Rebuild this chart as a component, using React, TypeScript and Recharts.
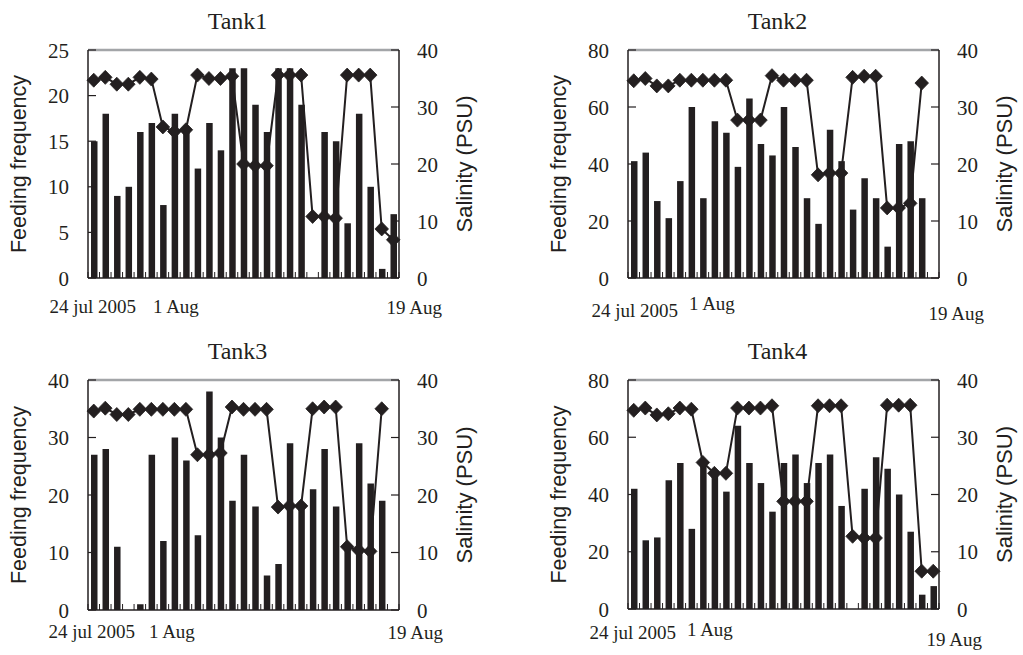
import React from "react";
import { ComposedChart, Bar, Line, XAxis, YAxis, ReferenceLine } from "recharts";

// ---------- data ----------
const days = [
  "24 Jul", "25 Jul", "26 Jul", "27 Jul", "28 Jul", "29 Jul", "30 Jul", "31 Jul",
  "1 Aug", "2 Aug", "3 Aug", "4 Aug", "5 Aug", "6 Aug", "7 Aug", "8 Aug", "9 Aug",
  "10 Aug", "11 Aug", "12 Aug", "13 Aug", "14 Aug", "15 Aug", "16 Aug", "17 Aug",
  "18 Aug", "19 Aug",
];
const xTickLabels = ["24 jul 2005", "1 Aug", "19 Aug"];
const xTickIndex = [0, 8, 26];

const titles = ["Tank1", "Tank2", "Tank3", "Tank4"];
const leftMax = [25, 80, 40, 80];
const leftTicks1 = [0, 5, 10, 15, 20, 25];
const leftTicks2 = [0, 20, 40, 60, 80];
const leftTicks3 = [0, 10, 20, 30, 40];
const leftTicks4 = [0, 20, 40, 60, 80];
const rightTicks = [0, 10, 20, 30, 40];

const tank1Feeding = [15, 18, 9, 10, 16, 17, 8, 18, 16, 12, 17, 14, 23, 23, 19, 16, 23, 23, 19, 0, 16, 15, 6, 18, 10, 1, 7];
const tank1Salinity = [34.7, 35.2, 34, 34, 35.2, 34.9, 26.5, 25.7, 26, 35.6, 35, 35, 35.4, 20, 19.7, 19.7, 35.6, 35.6, 35.6, 10.8, 10.8, 10.5, 35.6, 35.6, 35.6, 8.6, 6.7];

const tank2Feeding = [41, 44, 27, 21, 34, 60, 28, 55, 51, 39, 63, 47, 43, 60, 46, 28, 19, 52, 41, 24, 35, 28, 11, 47, 48, 28, null];
const tank2Salinity = [34.6, 35, 33.7, 33.7, 34.7, 34.7, 34.7, 34.7, 34.7, 27.7, 27.7, 27.7, 35.5, 34.7, 34.7, 34.7, 18.1, 18.4, 18.4, 35.2, 35.4, 35.4, 12.3, 12.3, 13.1, 34.2, null];

const tank3Feeding = [27, 28, 11, 0, 1, 27, 12, 30, 26, 13, 38, 30, 19, 27, 18, 6, 8, 29, 18, 21, 28, 18, 11, 29, 22, 19, null];
const tank3Salinity = [34.6, 35.1, 34, 34, 34.9, 34.9, 34.9, 34.9, 34.9, 27, 27, 27.3, 35.3, 34.9, 34.9, 34.9, 17.9, 18.1, 18.1, 35, 35.3, 35.3, 11, 10.4, 10.2, 35, null];

const tank4Feeding = [42, 24, 25, 45, 51, 28, 51, 48, 41, 64, 51, 44, 34, 51, 54, 44, 51, 54, 36, 0, 42, 53, 49, 40, 27, 5, 8];
const tank4Salinity = [34.7, 35.1, 33.9, 34.1, 35.1, 34.9, 25.6, 23.7, 23.7, 35.1, 35.1, 35.1, 35.5, 18.8, 18.8, 18.8, 35.5, 35.5, 35.5, 12.7, 12.4, 12.4, 35.6, 35.6, 35.6, 6.6, 6.6];

// ---------- style / layout ----------
const INK = "#231f20";
const GREY = "#a3a5a8";
const SERIF = '"Liberation Serif", "Times New Roman", serif';
const SANS = '"Liberation Sans", Arial, sans-serif';
const CHART_W = 511;
const PLOT_L = 88;
const PLOT_R = 399;
const PLOT_W = PLOT_R - PLOT_L;
const PLOT_TOP = 50;
const BAND = PLOT_W / days.length;

type LabelOff = { dx: number; dy: number };

const panels = [
  { left: 0, top: 0, plotH: 228, feeding: tank1Feeding, salinity: tank1Salinity, ticks: leftTicks1,
    offs: [{ dx: -1, dy: 35 }, { dx: -10, dy: 35 }, { dx: 21, dy: 36 }] },
  { left: 540, top: 0, plotH: 228, feeding: tank2Feeding, salinity: tank2Salinity, ticks: leftTicks2,
    offs: [{ dx: 1, dy: 39 }, { dx: -14, dy: 32 }, { dx: 23, dy: 42 }] },
  { left: 0, top: 330, plotH: 230, feeding: tank3Feeding, salinity: tank3Salinity, ticks: leftTicks3,
    offs: [{ dx: -2, dy: 28 }, { dx: -14, dy: 28 }, { dx: 22, dy: 29 }] },
  { left: 540, top: 330, plotH: 229, feeding: tank4Feeding, salinity: tank4Salinity, ticks: leftTicks4,
    offs: [{ dx: -1, dy: 30 }, { dx: -16, dy: 27 }, { dx: 21, dy: 37 }] },
];

const Diamond = (props: any) => {
  const { cx, cy, index } = props;
  if (cx == null || cy == null || props.value == null) return <g key={`d${index}`} />;
  const w = 6.8;
  const h = 7;
  return (
    <polygon
      key={`d${index}`}
      points={`${cx},${cy - h} ${cx + w},${cy} ${cx},${cy + h} ${cx - w},${cy}`}
      fill={INK}
      stroke={INK}
      strokeWidth={0.8}
    />
  );
};

const makeXTick = (offs: LabelOff[]) => (props: any) => {
  const { x, y, payload } = props;
  const idx = payload.index;
  const li = xTickIndex.indexOf(idx);
  const bx = x - BAND / 2;
  return (
    <g>
      <line x1={bx} x2={bx} y1={y} y2={y - 6} stroke={INK} strokeWidth={1} />
      {idx === days.length - 1 && (
        <line x1={x + BAND / 2} x2={x + BAND / 2} y1={y} y2={y - 6} stroke={INK} strokeWidth={1} />
      )}
      {li >= 0 && (
        <text
          x={x + offs[li].dx}
          y={y + offs[li].dy}
          textAnchor="middle"
          fontFamily={SERIF}
          fontSize={19}
          fill={INK}
        >
          {xTickLabels[li]}
        </text>
      )}
    </g>
  );
};

const LeftTick = (props: any) => {
  const { x, y, payload } = props;
  return (
    <g>
      <line x1={x} x2={x + 8} y1={y} y2={y} stroke={INK} strokeWidth={1.2} />
      <text x={x - 19} y={y} dy="0.36em" textAnchor="end" fontFamily={SERIF} fontSize={21} fill={INK}>
        {payload.value}
      </text>
    </g>
  );
};

const RightTick = (props: any) => {
  const { x, y, payload } = props;
  return (
    <g>
      <line x1={x} x2={x - 8} y1={y} y2={y} stroke={INK} strokeWidth={1.2} />
      <text x={x + 18} y={y} dy="0.36em" textAnchor="start" fontFamily={SERIF} fontSize={21} fill={INK}>
        {payload.value}
      </text>
    </g>
  );
};

function Panel({ p, i }: { p: any; i: number }) {
  const data = days.map((d, k) => ({ day: d, feeding: p.feeding[k], salinity: p.salinity[k] }));
  const height = PLOT_TOP + p.plotH + 50;
  const XTick = makeXTick(p.offs);
  return (
    <div style={{ position: "absolute", left: p.left, top: p.top, width: CHART_W, height }}>
      <ComposedChart
        width={CHART_W}
        height={height}
        data={data}
        margin={{ top: PLOT_TOP, right: 0, bottom: 0, left: 0 }}
      >
        <XAxis
          dataKey="day"
          height={50}
          interval={0}
          tickSize={0}
          tickMargin={0}
          tickLine={false}
          axisLine={{ stroke: INK, strokeWidth: 1.5 }}
          tick={XTick}
        />
        <YAxis
          yAxisId="f"
          orientation="left"
          width={PLOT_L}
          domain={[0, leftMax[i]]}
          ticks={p.ticks}
          interval={0}
          tickSize={0}
          tickMargin={0}
          axisLine={{ stroke: INK, strokeWidth: 1.5 }}
          tickLine={false}
          tick={LeftTick}
        />
        <YAxis
          yAxisId="s"
          orientation="right"
          width={CHART_W - PLOT_R}
          domain={[0, 40]}
          ticks={rightTicks}
          interval={0}
          tickSize={0}
          tickMargin={0}
          axisLine={{ stroke: INK, strokeWidth: 1.5 }}
          tickLine={false}
          tick={RightTick}
        />
        <ReferenceLine yAxisId="f" y={leftMax[i]} stroke={GREY} strokeWidth={2.5} />
        <Bar yAxisId="f" dataKey="feeding" fill={INK} barSize={6.5} isAnimationActive={false} />
        <Line
          yAxisId="s"
          dataKey="salinity"
          type="linear"
          stroke={INK}
          strokeWidth={2}
          dot={Diamond}
          activeDot={false}
          isAnimationActive={false}
        />
      </ComposedChart>
    </div>
  );
}

export default function App() {
  return (
    <div style={{ position: "absolute", left: 0, top: 0, width: 1023, height: 655, background: "#fff", overflow: "hidden" }}>
      {panels.map((p, i) => (
        <Panel key={i} p={p} i={i} />
      ))}
      <svg width={1023} height={655} style={{ position: "absolute", left: 0, top: 0, pointerEvents: "none" }}>
        {panels.map((p, i) => {
          const cx = p.left + (PLOT_L + PLOT_R) / 2 - 6;
          const plotTop = p.top + PLOT_TOP;
          const cy = plotTop + p.plotH / 2;
          return (
            <g key={i}>
              <text x={cx} y={plotTop - 21} textAnchor="middle" fontFamily={SERIF} fontSize={24} fill={INK}>
                {titles[i]}
              </text>
              <text
                transform={`translate(${p.left + 26},${cy}) rotate(-90)`}
                textAnchor="middle"
                fontFamily={SANS}
                fontSize={21.5}
                fill={INK}
              >
                Feeding frequency
              </text>
              <text
                transform={`translate(${p.left + 472},${cy}) rotate(-90)`}
                textAnchor="middle"
                fontFamily={SANS}
                fontSize={22}
                fill={INK}
              >
                Salinity (PSU)
              </text>
            </g>
          );
        })}
      </svg>
    </div>
  );
}
